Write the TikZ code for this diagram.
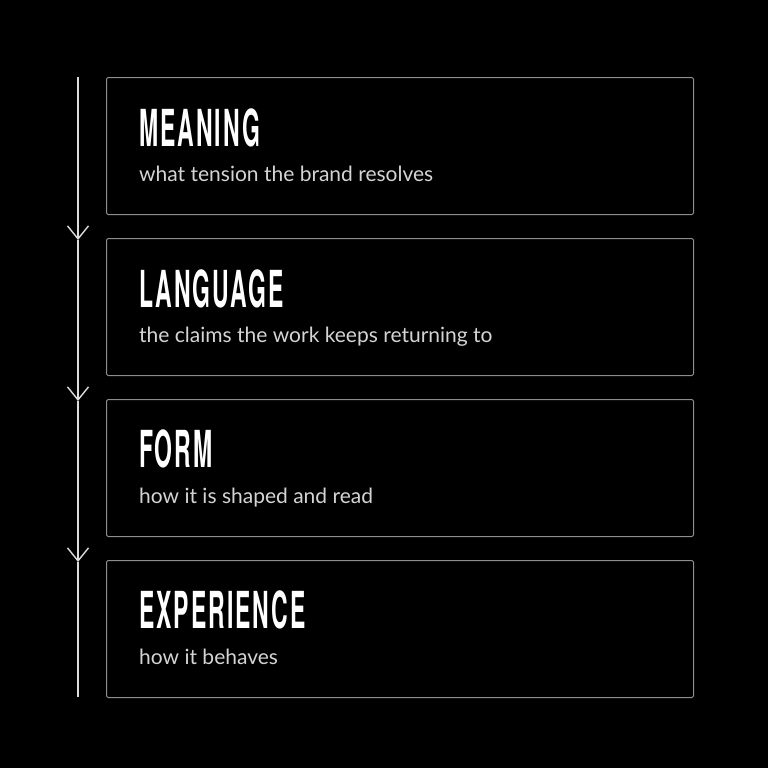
\documentclass[tikz,border=0pt]{standalone}
\usepackage{fontspec}
\usetikzlibrary{arrows.meta}
\newfontfamily\titlefont[FakeStretch=0.45,LetterSpace=4]{TeX Gyre Heros}
\newfontfamily\subfont{Lato}
\definecolor{boxgray}{HTML}{8E8E8E}
\definecolor{subgray}{HTML}{D4D4D4}
\definecolor{linegray}{HTML}{DCDCDC}
\tikzset{
  stage/.style={draw=boxgray, line width=1pt, rounded corners=1.5pt, anchor=north west,
    minimum width=587pt, minimum height=137pt, inner sep=0pt},
  stagetitle/.style={anchor=base west, inner sep=0pt, text=white,
    font=\titlefont\bfseries\fontsize{51}{51}\selectfont},
  stagesub/.style={anchor=base west, inner sep=0pt, text=subgray,
    font=\subfont\fontsize{21}{21}\selectfont},
  flow/.style={draw=linegray, line width=1.4pt, -{Straight Barb[length=13pt,width=21pt]}}
}
\begin{document}
\begin{tikzpicture}[x=1pt,y=-1pt]
\useasboundingbox[fill=black] (0,0) rectangle (768,768);

%Boxes, one per stage
\node[stage] (meaning) at (106,77) {};
\node[stage] (language) at (106,238) {};
\node[stage] (form) at (106,399) {};
\node[stage] (experience) at (106,560) {};

\node[stagetitle] (meaningtitle) at (139,146) {MEANING};
\node[stagesub] (meaningsub) at (139,181) {what tension the brand resolves};
\node[stagetitle] (languagetitle) at (139,307) {LANGUAGE};
\node[stagesub] (languagesub) at (139,342) {the claims the work keeps returning to};
\node[stagetitle] (formtitle) at (139,467) {FORM};
\node[stagesub] (formsub) at (139,503) {how it is shaped and read};
\node[stagetitle] (experiencetitle) at (139,628) {EXPERIENCE};
\node[stagesub] (experiencesub) at (139,664) {how it behaves};

%Flow line on the left
\coordinate (start) at (78,77);
\coordinate (tipa) at (78,240);
\coordinate (tipb) at (78,401);
\coordinate (tipc) at (78,562);
\coordinate (stop) at (78,697);
\draw[flow] (start) -- (tipa);
\draw[flow] (tipa) -- (tipb);
\draw[flow] (tipb) -- (tipc);
\draw[flow,-] (tipc) -- (stop);

\end{tikzpicture}
\end{document}
